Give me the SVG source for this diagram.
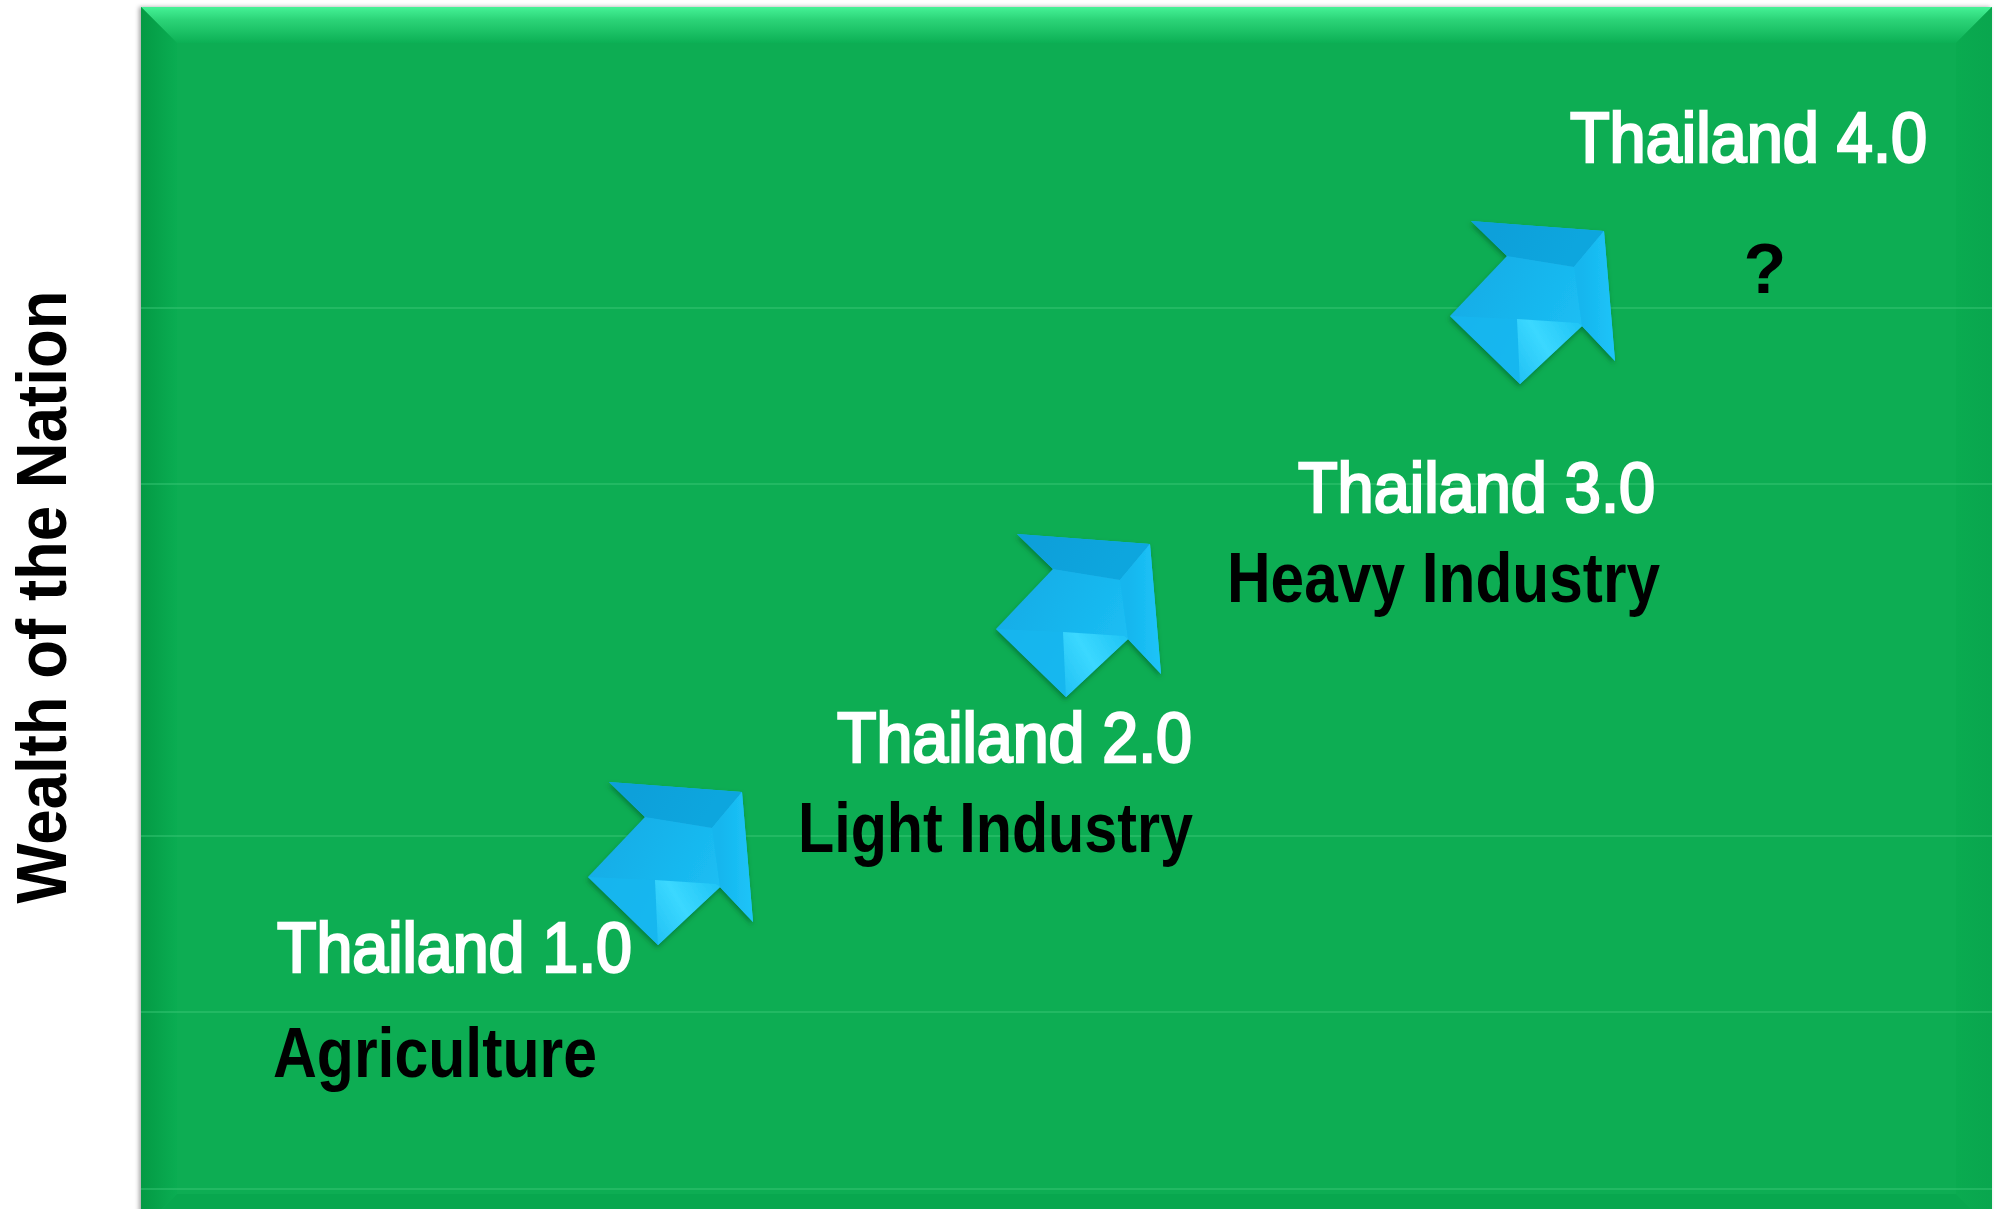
<svg xmlns="http://www.w3.org/2000/svg" width="2002" height="1209" viewBox="0 0 2002 1209">
  <defs>
    <style>
      .lbl{font-family:"Liberation Sans",Arial,sans-serif;font-weight:bold;font-size:70px}
      .w{fill:#ffffff;font-weight:normal;stroke:#ffffff;stroke-width:2.6px}
      .k{fill:#000000}
      .grid{stroke:#3cc878;stroke-width:1.5;opacity:0.6}
    </style>
    <linearGradient id="gTop" x1="0" y1="0" x2="0" y2="1">
      <stop offset="0" stop-color="#45f296"/>
      <stop offset="0.35" stop-color="#2cd478"/>
      <stop offset="1" stop-color="#0cb055"/>
    </linearGradient>
    <linearGradient id="gLeft" x1="0" y1="0" x2="1" y2="0">
      <stop offset="0" stop-color="#049a44"/>
      <stop offset="1" stop-color="#0aad52"/>
    </linearGradient>
    <linearGradient id="gRight" x1="0" y1="0" x2="1" y2="0">
      <stop offset="0" stop-color="#0aab50"/>
      <stop offset="1" stop-color="#09a64e"/>
    </linearGradient>
    <linearGradient id="gShaftLight" gradientUnits="userSpaceOnUse" x1="640" y1="930" x2="715" y2="885">
      <stop offset="0" stop-color="#1dbdf2"/>
      <stop offset="0.55" stop-color="#3bd8ff"/>
      <stop offset="1" stop-color="#22c6f6"/>
    </linearGradient>
    <linearGradient id="gBody" gradientUnits="userSpaceOnUse" x1="600" y1="830" x2="720" y2="900">
      <stop offset="0" stop-color="#12ace6"/>
      <stop offset="1" stop-color="#1cbff4"/>
    </linearGradient>
    <linearGradient id="gTopFacet" gradientUnits="userSpaceOnUse" x1="640" y1="785" x2="700" y2="825">
      <stop offset="0" stop-color="#0ba0da"/>
      <stop offset="1" stop-color="#10a6de"/>
    </linearGradient>
    <linearGradient id="gRightFacet" gradientUnits="userSpaceOnUse" x1="720" y1="850" x2="752" y2="850">
      <stop offset="0" stop-color="#14b6ee"/>
      <stop offset="1" stop-color="#1ec4f8"/>
    </linearGradient>
    <filter id="boxShadow" x="-5%" y="-5%" width="110%" height="110%">
      <feDropShadow dx="-2" dy="0" stdDeviation="2" flood-color="#000000" flood-opacity="0.35"/>
    </filter>
    <filter id="arrowShadow" x="-20%" y="-20%" width="140%" height="140%">
      <feDropShadow dx="-1" dy="3" stdDeviation="2.5" flood-color="#045a28" flood-opacity="0.55"/>
    </filter>
    <g id="arrow" filter="url(#arrowShadow)">
      <polygon points="609,782 742,792 753,922 720,887 658,945 588,877 645,817" fill="url(#gBody)"/>
      <polygon points="609,782 742,792 712,828 645,817" fill="url(#gTopFacet)"/>
      <polygon points="742,792 753,922 720,887 712,828" fill="url(#gRightFacet)"/>
      <polygon points="588,877 655,880 658,945" fill="#17b7ef" opacity="0.8"/>
      <polygon points="655,880 716,884 720,887 658,945" fill="url(#gShaftLight)"/>
    </g>
  </defs>

  <rect x="0" y="0" width="2002" height="1209" fill="#ffffff"/>

  <g id="panel">
    <rect x="141" y="7" width="1851" height="1230" fill="#0aad52" filter="url(#boxShadow)"/>
    <polygon points="141,7 1992,7 1956,43 177,43" fill="url(#gTop)"/>
    <polygon points="141,7 177,43 177,1194 141,1230" fill="url(#gLeft)"/>
    <polygon points="1992,7 1992,1230 1956,1194 1956,43" fill="url(#gRight)"/>
    <polygon points="141,1230 177,1194 1956,1194 1992,1230" fill="#08a74e"/>
  </g>

  <g id="gridlines">
    <line class="grid" x1="141" y1="308" x2="1992" y2="308"/>
    <line class="grid" x1="141" y1="484" x2="1992" y2="484"/>
    <line class="grid" x1="141" y1="836" x2="1992" y2="836"/>
    <line class="grid" x1="141" y1="1012" x2="1992" y2="1012"/>
    <line class="grid" x1="141" y1="1189" x2="1992" y2="1189"/>
  </g>

  <g id="axis-label">
    <text class="lbl k" transform="translate(66,597) rotate(-90)" text-anchor="middle" font-size="64" textLength="613" lengthAdjust="spacingAndGlyphs">Wealth of the Nation</text>
  </g>

  <g id="connectors">
    <use href="#arrow" id="arrow1"/>
    <use href="#arrow" id="arrow2" transform="translate(408,-248)"/>
    <use href="#arrow" id="arrow3" transform="translate(862,-561)"/>
  </g>

  <g id="node-thailand1">
    <text class="lbl w" x="277" y="972" textLength="355" lengthAdjust="spacingAndGlyphs">Thailand 1.0</text>
    <text class="lbl k" x="273" y="1077" textLength="324" lengthAdjust="spacingAndGlyphs">Agriculture</text>
  </g>

  <g id="node-thailand2">
    <text class="lbl w" x="837" y="762" textLength="355" lengthAdjust="spacingAndGlyphs">Thailand 2.0</text>
    <text class="lbl k" x="798" y="852" textLength="395" lengthAdjust="spacingAndGlyphs">Light Industry</text>
  </g>

  <g id="node-thailand3">
    <text class="lbl w" x="1298" y="512" textLength="357" lengthAdjust="spacingAndGlyphs">Thailand 3.0</text>
    <text class="lbl k" x="1227" y="602" textLength="433" lengthAdjust="spacingAndGlyphs">Heavy Industry</text>
  </g>

  <g id="node-thailand4">
    <text class="lbl w" x="1570" y="162" textLength="357" lengthAdjust="spacingAndGlyphs">Thailand 4.0</text>
    <text class="lbl k" x="1765" y="293" text-anchor="middle" font-size="78">?</text>
  </g>
</svg>
